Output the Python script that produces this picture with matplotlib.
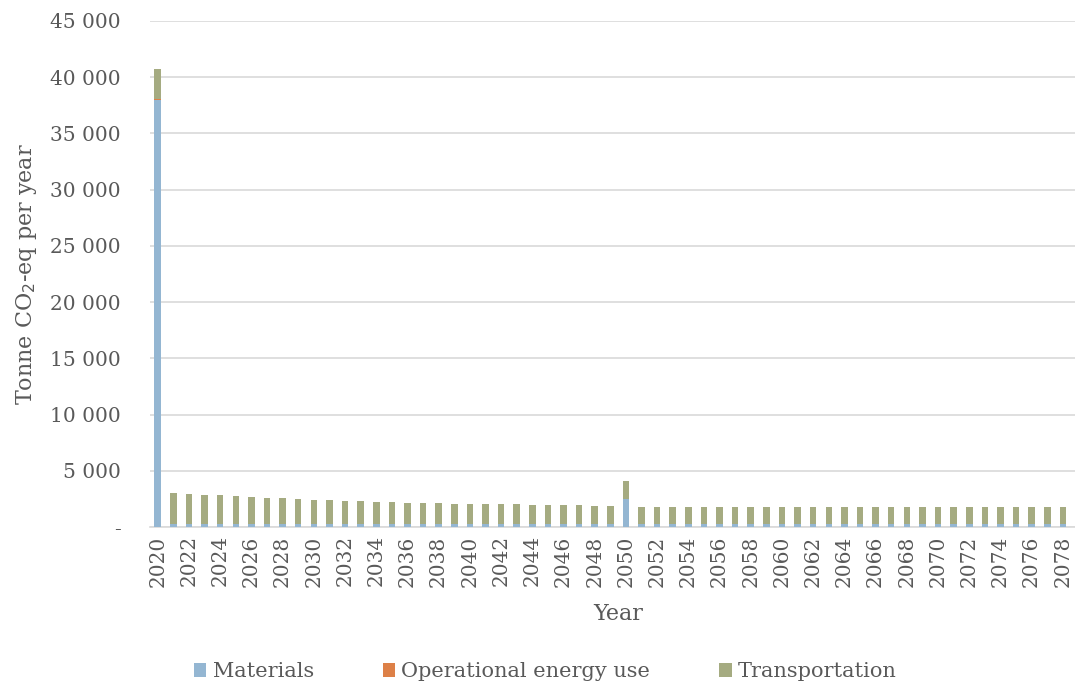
import numpy as np
import matplotlib.pyplot as plt
from matplotlib.ticker import FuncFormatter, MultipleLocator

# Years shown on the x axis (the last one is cut off by the figure edge)
years = list(range(2020, 2080))

# Tonne CO2-eq per year
materials = [38000] + [250] * 29 + [2450] + [250] * 29
operational = [100] + [60] * 59
transportation = [
    2650, 2740, 2650, 2570, 2510, 2420, 2360, 2300, 2240, 2150,
    2090, 2060, 2000, 1970, 1910, 1880, 1850, 1820, 1800, 1780,
    1760, 1740, 1730, 1710, 1690, 1670, 1650, 1630, 1590, 1550,
    1580, 1500, 1500, 1500, 1500, 1500, 1500, 1500, 1500, 1500,
    1500, 1500, 1500, 1500, 1500, 1500, 1500, 1500, 1500, 1500,
    1500, 1500, 1500, 1500, 1500, 1500, 1500, 1500, 1500, 1500,
]

series_labels = ["Materials", "Operational energy use", "Transportation"]
colors = ["#94B6D2", "#DD8047", "#A5AB81"]
text_color = "#595959"

plt.rcParams["font.family"] = ["DejaVu Serif"]

fig = plt.figure(figsize=(10.75, 6.83), dpi=100)
ax = fig.add_axes([0.1395, 0.2284, 0.871, 0.7409])

x = np.array(years)
bottom = np.zeros(len(years))
for vals, lab, col in zip([materials, operational, transportation], series_labels, colors):
    ax.bar(x, vals, width=0.42, bottom=bottom, color=col, label=lab, zorder=3)
    bottom += np.array(vals)

ax.set_xlim(2019.5, 2079.5)
ax.set_ylim(0, 45000)
ax.yaxis.set_major_locator(MultipleLocator(5000))
ax.yaxis.set_major_formatter(
    FuncFormatter(lambda v, p: "-" if v == 0 else f"{int(v):,}".replace(",", " ")))
ax.set_xticks(years[::2])
ax.set_xticklabels([str(y) for y in years[::2]], rotation=90)

ax.grid(axis="y", color="#D9D9D9", linewidth=1.2, zorder=0)
for s in ["top", "right", "left"]:
    ax.spines[s].set_visible(False)
ax.spines["bottom"].set_color("#D9D9D9")
ax.spines["bottom"].set_linewidth(1.2)
ax.tick_params(axis="both", length=0, labelsize=14.5, colors=text_color)
ax.tick_params(axis="x", pad=6)
ax.tick_params(axis="y", pad=21)

ax.set_xlabel("Year", fontsize=16, color=text_color, labelpad=12)
ax.set_ylabel("Tonne CO$_2$-eq per year", fontsize=16, color=text_color, labelpad=8)

fig.legend(loc="lower left", bbox_to_anchor=(0.163, -0.025), ncol=3, frameon=False,
           fontsize=15, labelcolor=text_color, handlelength=0.6, handleheight=0.6,
           handletextpad=0.3, columnspacing=3.3)

fig.savefig("out.png", dpi=100)
